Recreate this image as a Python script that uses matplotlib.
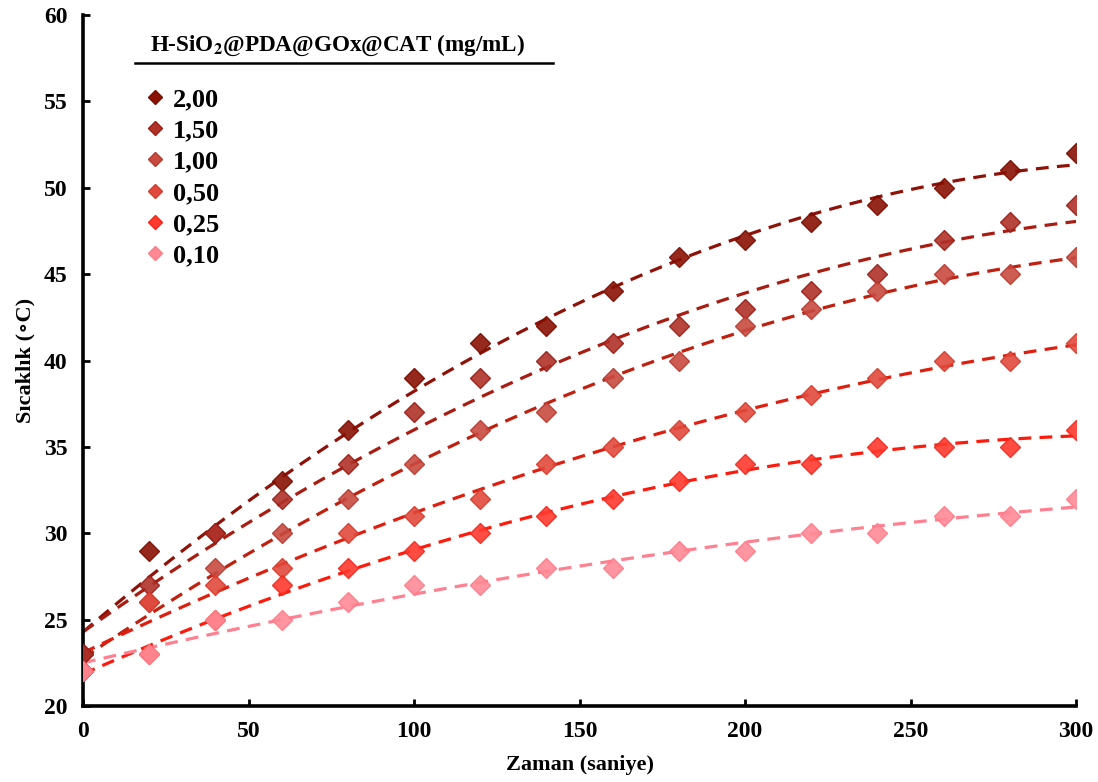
import numpy as np
import matplotlib.pyplot as plt
from matplotlib.lines import Line2D

plt.rcParams['font.family'] = ['Liberation Serif', 'DejaVu Serif']
plt.rcParams['font.weight'] = 'bold'
plt.rcParams['mathtext.fontset'] = 'stix'

# time (s) and temperature (C) for each concentration
zaman = [0, 20, 40, 60, 80, 100, 120, 140, 160, 180, 200, 220, 240, 260, 280, 300]
c200 = [23, 29, 30, 33, 36, 39, 41, 42, 44, 46, 47, 48, 49, 50, 51, 52]
c150 = [23, 27, 30, 32, 34, 37, 39, 40, 41, 42, 43, 44, 45, 47, 48, 49]
c100 = [22, 26, 28, 30, 32, 34, 36, 37, 39, 40, 42, 43, 44, 45, 45, 46]
c050 = [22, 26, 27, 28, 30, 31, 32, 34, 35, 36, 37, 38, 39, 40, 40, 41]
c025 = [22, 23, 25, 27, 28, 29, 30, 31, 32, 33, 34, 34, 35, 35, 35, 36]
c010 = [22, 23, 25, 25, 26, 27, 27, 28, 28, 29, 29, 30, 30, 31, 31, 32]

labels = ['2,00', '1,50', '1,00', '0,50', '0,25', '0,10']
series = [c200, c150, c100, c050, c025, c010]
marker_c = ['#8a1204', '#b0322a', '#c84a40', '#e04a3c', '#ff3a2e', '#ff8a96']
edge_c = ['#7a0c00', '#981e16', '#b83a30', '#d83a2c', '#f02a1e', '#ff7a88']
line_c = ['#8e1208', '#a81c12', '#c0200f', '#e01e10', '#ff1a0c', '#ff8090']

fig = plt.figure(figsize=(10.98, 7.82), dpi=100)
ax = fig.add_axes([0.0756, 0.0972, 0.9044, 0.8836])

x = np.array(zaman, dtype=float)
xs = np.linspace(0, 300, 200)
handles = []
for y, lab, mc, ec, lc in zip(series, labels, marker_c, edge_c, line_c):
    y = np.array(y, dtype=float)
    # second order trend line
    fit = np.poly1d(np.polyfit(x, y, 2))
    ax.plot(xs, fit(xs), color=lc, lw=2.3, dashes=(4, 2.6), zorder=2)
    ax.plot(x, y, 'D', ms=10.5, mfc=mc, mec=ec, mew=1, alpha=0.9,
            linestyle='none', zorder=3)
    handles.append(Line2D([], [], marker='D', ms=7.5, mfc=mc, mec=ec,
                          linestyle='none', label=lab))

ax.set_xlim(0, 300)
ax.set_ylim(20, 60)
ax.set_xticks(range(0, 301, 50))
ax.set_yticks(range(20, 61, 5))
ax.spines['top'].set_visible(False)
ax.spines['right'].set_visible(False)
for s in ['left', 'bottom']:
    ax.spines[s].set_linewidth(2.6)
ax.tick_params(direction='in', length=5, width=2, labelsize=17, pad=11)
for t in ax.get_xticklabels() + ax.get_yticklabels():
    t.set_fontweight('bold')

ax.set_xlabel('Zaman (saniye)', fontsize=16, fontweight='bold', labelpad=9)
ax.set_ylabel('Sıcaklık (∘C)', fontsize=16, fontweight='bold', labelpad=6)

fig.text(150 / 1098, 1 - 45 / 782, r'H-SiO$_\mathbf{2}$@PDA@GOx@CAT (mg/mL)',
         fontsize=16.7, fontweight='bold', va='center', ha='left')
fig.add_artist(Line2D([135 / 1098, 553 / 1098], [1 - 63 / 782, 1 - 63 / 782],
                      color='black', lw=1.8))

ax.legend(handles=handles, loc='upper left',
          bbox_to_anchor=(144 / 1098, 1 - 88 / 782),
          bbox_transform=fig.transFigure, frameon=False,
          prop={'size': 19, 'weight': 'bold'}, handlelength=0.8,
          handletextpad=0.3, labelspacing=0.29, borderpad=0,
          borderaxespad=0)

fig.savefig('out.png', dpi=100)
